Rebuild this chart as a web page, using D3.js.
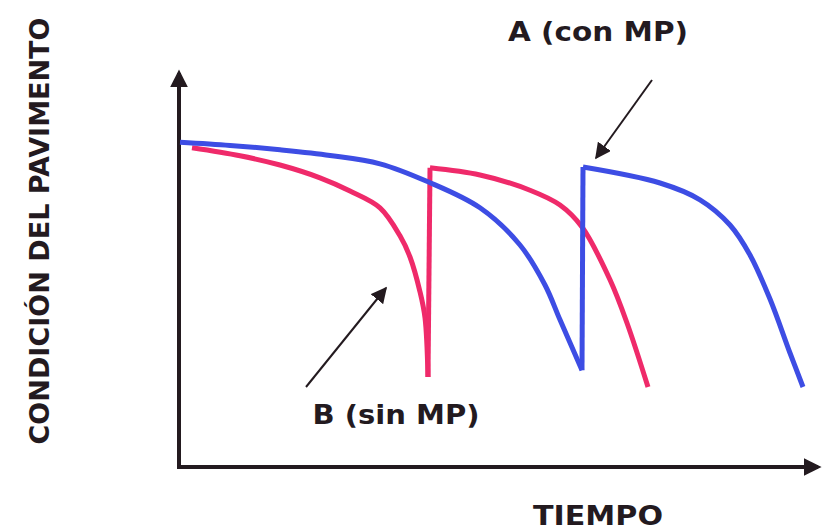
<!DOCTYPE html>
<html>
<head>
<meta charset="utf-8">
<script src="https://cdn.jsdelivr.net/npm/d3@7"></script>
<style>
  body { margin: 0; background: #fff; }
  text { font-family: "DejaVu Sans", "Liberation Sans", Arial, sans-serif; font-weight: bold; fill: #231a1f; }
</style>
</head>
<body>
<div id="chart"></div>
<script>
// curve A (con MP): time vs. pavement condition, rehab at t≈403
var timeA = [0, 50, 100, 150, 200, 248, 300, 340, 365, 380, 402, 403, 480, 520, 550, 570, 590, 610, 623];
var condA = [81.2, 80.4, 79.3, 77.9, 75.8, 71.3, 64.8, 55.5, 45.5, 36.8, 24.2, 75, 71, 66.8, 60.5, 53, 42, 28.5, 20];

// curve B (sin MP): rehab at t≈250
var timeB = [12, 60, 100, 140, 170, 200, 220, 230, 240, 245, 248, 250, 300, 350, 380, 402, 430, 447, 468];
var condB = [79.8, 77.8, 75.5, 72.3, 69, 64.8, 57.8, 52.5, 43.8, 37.3, 22.5, 74.8, 73, 69.2, 65.5, 60, 46.8, 36, 20];

var labelY = "CONDICIÓN DEL PAVIMENTO";
var labelX = "TIEMPO";
var labelA = "A (con MP)";
var labelB = "B (sin MP)";

var width = 822, height = 530;
var x = d3.scaleLinear().domain([0, 640]).range([180, 820]);
var y = d3.scaleLinear().domain([0, 100]).range([467, 67]);

var svg = d3.select("#chart").append("svg")
    .attr("width", width)
    .attr("height", height);

var defs = svg.append("defs");
defs.append("marker")
    .attr("id", "axisHead")
    .attr("viewBox", "0 0 10 10")
    .attr("refX", 8).attr("refY", 5)
    .attr("markerWidth", 4.5).attr("markerHeight", 4.5)
    .attr("markerUnits", "strokeWidth")
    .attr("orient", "auto")
    .append("path").attr("d", "M0,0 L10,5 L0,10 z").attr("fill", "#231a1f");
defs.append("marker")
    .attr("id", "noteHead")
    .attr("viewBox", "0 0 10 10")
    .attr("refX", 9).attr("refY", 5)
    .attr("markerWidth", 8).attr("markerHeight", 8)
    .attr("markerUnits", "strokeWidth")
    .attr("orient", "auto")
    .append("path").attr("d", "M0,0 L10,5 L0,10 z").attr("fill", "#231a1f");

// axes
svg.append("line")
    .attr("x1", x(0) - 1).attr("y1", y(0) + 2)
    .attr("x2", x(0) - 1).attr("y2", y(98.5))
    .attr("stroke", "#231a1f").attr("stroke-width", 4)
    .attr("marker-end", "url(#axisHead)");
svg.append("line")
    .attr("x1", x(0) - 3).attr("y1", y(0))
    .attr("x2", x(638)).attr("y2", y(0))
    .attr("stroke", "#231a1f").attr("stroke-width", 4)
    .attr("marker-end", "url(#axisHead)");

var line = d3.line()
    .x(function(d) { return x(d[0]); })
    .y(function(d) { return y(d[1]); })
    .curve(d3.curveCatmullRom.alpha(0.5));

// split each series at the vertical jump so it stays sharp
function segments(t, c) {
    var segs = [[]];
    t.forEach(function(v, i) {
        if (i > 0 && c[i] - c[i - 1] > 20) segs.push([]);
        segs[segs.length - 1].push([v, c[i]]);
    });
    return segs;
}

function drawSeries(t, c, color) {
    segments(t, c).forEach(function(s) {
        svg.append("path")
            .attr("d", line(s))
            .attr("fill", "none")
            .attr("stroke", color)
            .attr("stroke-width", 5)
            .attr("stroke-linejoin", "round");
    });
    // connect the jump
    for (var i = 1; i < t.length; i++) {
        if (c[i] - c[i - 1] > 20) {
            svg.append("path")
                .attr("d", "M" + x(t[i - 1]) + "," + y(c[i - 1]) + "L" + x(t[i]) + "," + y(c[i]))
                .attr("fill", "none")
                .attr("stroke", color).attr("stroke-width", 5)
                .attr("stroke-linejoin", "round");
        }
    }
}

drawSeries(timeB, condB, "#ef2a6a");
drawSeries(timeA, condA, "#3d4de4");

// annotations
svg.append("line")
    .attr("x1", 652).attr("y1", 80)
    .attr("x2", 596).attr("y2", 158)
    .attr("stroke", "#231a1f").attr("stroke-width", 2)
    .attr("marker-end", "url(#noteHead)");
svg.append("line")
    .attr("x1", 306).attr("y1", 387)
    .attr("x2", 386).attr("y2", 288)
    .attr("stroke", "#231a1f").attr("stroke-width", 2)
    .attr("marker-end", "url(#noteHead)");

function label(txt, px, py, len, rot) {
    var t = svg.append("text")
        .attr("text-anchor", "middle")
        .attr("textLength", len)
        .attr("lengthAdjust", "spacingAndGlyphs")
        .style("font-size", "26px")
        .text(txt);
    if (rot) t.attr("transform", "translate(" + px + "," + py + ") rotate(-90)");
    else t.attr("x", px).attr("y", py);
}

label(labelA, 598, 41, 180);
label(labelB, 396, 424, 167);
label(labelX, 598, 525, 130);
label(labelY, 49, 231, 427, true);
</script>
</body>
</html>
